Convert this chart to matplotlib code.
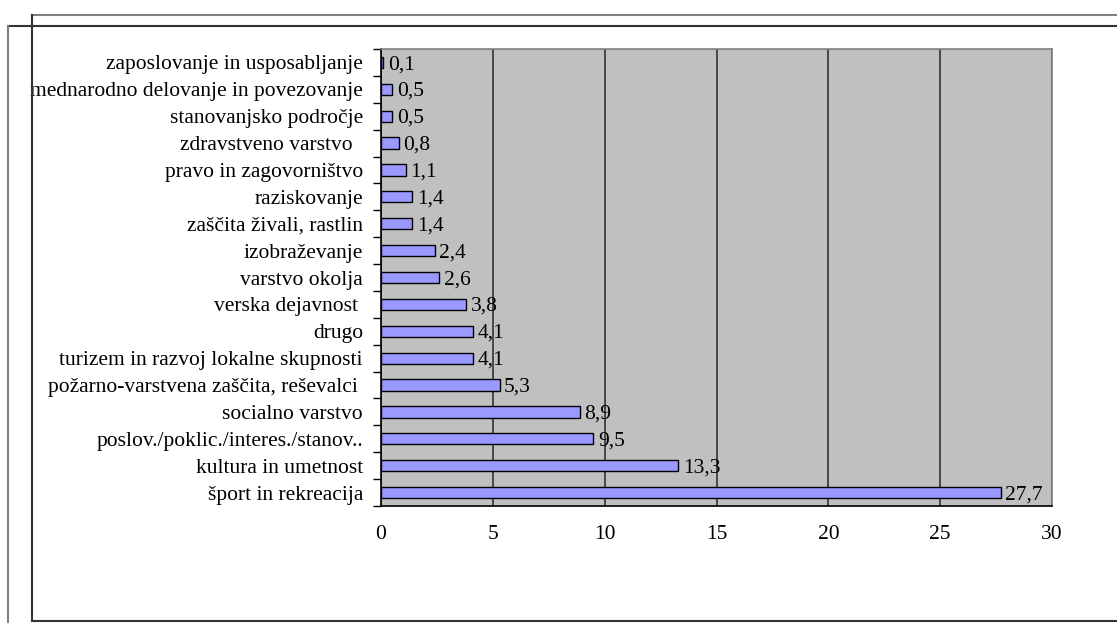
import matplotlib
matplotlib.use("Agg")
import matplotlib.pyplot as plt
from matplotlib.lines import Line2D

# Categories (top to bottom as shown) and shares
categories = [
    "zaposlovanje in usposabljanje",
    "mednarodno delovanje in povezovanje",
    "stanovanjsko področje",
    "zdravstveno varstvo  ",
    "pravo in zagovorništvo",
    "raziskovanje",
    "zaščita živali, rastlin",
    "izobraževanje",
    "varstvo okolja",
    "verska dejavnost ",
    "drugo",
    "turizem in razvoj lokalne skupnosti",
    "požarno-varstvena zaščita, reševalci ",
    "socialno varstvo",
    "poslov./poklic./interes./stanov..",
    "kultura in umetnost",
    "šport in rekreacija",
]
values = [0.1, 0.5, 0.5, 0.8, 1.1, 1.4, 1.4, 2.4, 2.6, 3.8, 4.1, 4.1, 5.3, 8.9, 9.5, 13.3, 27.7]
x_ticks = [0, 5, 10, 15, 20, 25, 30]

plt.rcParams["font.family"] = ["Liberation Serif", "DejaVu Serif"]
plt.rcParams["font.size"] = 15.5

W, H = 1117, 623
fig = plt.figure(figsize=(W / 100, H / 100), dpi=100)

# plot area in pixels: left 381, right 1052, top 49, bottom 506
ax = fig.add_axes([381 / W, 1 - 506 / H, (1052 - 381) / W, (506 - 49) / H])
ax.set_facecolor("#C0C0C0")

n = len(categories)
ypos = list(range(n))[::-1]
ax.barh(ypos, values, height=0.42, color="#9999FF", edgecolor="black", linewidth=1, zorder=3)

for y, v in zip(ypos, values):
    ax.text(v + 0.2, y - 0.08, f"{v:.1f}".replace(".", ","), va="center", ha="left",
            fontsize=15.5, zorder=4)

ax.set_xlim(0, 30)
ax.set_ylim(-0.5, n - 0.5)
ax.set_xticks(x_ticks)
ax.set_xticklabels([str(t) for t in x_ticks])
ax.xaxis.grid(True, color="#333333", linewidth=1.2, zorder=1)
ax.set_axisbelow(True)

# y ticks on category boundaries, labels at centers
ax.set_yticks([i - 0.5 for i in range(n + 1)])
ax.set_yticklabels([])
ax.set_yticks(ypos, minor=True)
ax.set_yticklabels(categories, minor=True)
ax.tick_params(axis="y", which="major", length=6, width=1, direction="out")
ax.tick_params(axis="y", which="minor", length=0, pad=13)
ax.tick_params(axis="x", length=0, pad=14)

for s in ["left", "bottom"]:
    ax.spines[s].set_color("black")
    ax.spines[s].set_linewidth(1.2)
for s in ["top", "right"]:
    ax.spines[s].set_color("#808080")
    ax.spines[s].set_linewidth(1.2)

# frame lines around the chart (figure pixel coordinates)
def fline(x0, y0, x1, y1, color):
    fig.add_artist(Line2D([x0 / W, x1 / W], [1 - y0 / H, 1 - y1 / H],
                          color=color, linewidth=1.5, transform=fig.transFigure))

fline(32, 15, W, 15, "#808080")
fline(8, 26, W, 26, "#333333")
fline(32, 15, 32, 621, "#333333")
fline(32, 621, W, 621, "#333333")
fline(8, 26, 8, H, "#808080")

fig.savefig("out.png", dpi=100)
